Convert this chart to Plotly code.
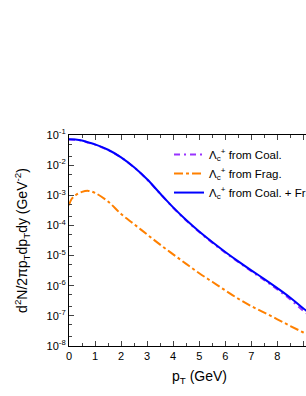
import plotly.graph_objects as go

# transverse momentum grid (GeV)
pt_tot = [0, 0.25, 0.5, 0.75, 1.0, 1.5, 2.0, 2.5, 3.0, 3.5, 4.0, 4.5, 5.0, 5.5,
          6.0, 6.5, 7.0, 7.5, 8.0, 8.5, 9.0, 9.5, 10.0]
coal = [0.0715, 0.0699, 0.0648, 0.0555, 0.0478, 0.0317, 0.0180, 8.4e-3, 3.34e-3,
        1.13e-3, 3.87e-4, 1.46e-4, 6.05e-5, 2.69e-5, 1.25e-5, 6.1e-6, 3.03e-6,
        1.53e-6, 7.5e-7, 3.5e-7, 1.47e-7, 6.8e-8, 3.1e-8]
total = [0.072, 0.071, 0.066, 0.0568, 0.049, 0.0324, 0.0182, 8.5e-3, 3.39e-3,
         1.15e-3, 3.98e-4, 1.51e-4, 6.3e-5, 2.82e-5, 1.32e-5, 6.45e-6, 3.24e-6,
         1.66e-6, 8.3e-7, 4.0e-7, 1.75e-7, 8.5e-8, 4.2e-8]
pt_frag = [0, 0.1, 0.25, 0.5, 0.75, 1.0, 1.5, 2.0, 2.5, 3.0, 3.5, 4.0, 4.5, 5.0,
           5.5, 6.0, 6.5, 7.0, 7.5, 8.0, 8.5, 9.0, 9.5, 10.0]
frag = [4.7e-4, 7.5e-4, 1.0e-3, 1.3e-3, 1.4e-3, 1.2e-3, 6.2e-4, 2.4e-4, 1.1e-4,
        5.0e-5, 2.3e-5, 1.1e-5, 5.3e-6, 2.6e-6, 1.35e-6, 7.0e-7, 3.7e-7, 2.1e-7,
        1.28e-7, 7.7e-8, 4.6e-8, 2.8e-8, 1.7e-8, 1.05e-8]

ytick_vals = [1e-8, 1e-7, 1e-6, 1e-5, 1e-4, 1e-3, 1e-2, 1e-1]
ytick_text = ["10<sup>-8</sup>", "10<sup>-7</sup>", "10<sup>-6</sup>", "10<sup>-5</sup>",
              "10<sup>-4</sup>", "10<sup>-3</sup>", "10<sup>-2</sup>", "10<sup>-1</sup>"]
xtick_vals = [0, 1, 2, 3, 4, 5, 6, 7, 8, 9, 10]

FONT = "Liberation Sans, Arial, sans-serif"

fig = go.Figure()
fig.add_trace(go.Scatter(x=pt_tot, y=coal, mode="lines", line_shape="spline",
                         name="Λ<sub>c</sub><sup>+</sup> from Coal.",
                         line=dict(color="#9933FF", width=2, dash="6px,4px,2px,4px")))
fig.add_trace(go.Scatter(x=pt_frag, y=frag, mode="lines", line_shape="spline",
                         name="Λ<sub>c</sub><sup>+</sup> from Frag.",
                         line=dict(color="#FF8000", width=2, dash="dashdot")))
fig.add_trace(go.Scatter(x=pt_tot, y=total, mode="lines", line_shape="spline",
                         name="Λ<sub>c</sub><sup>+</sup> from Coal. + Frag.",
                         line=dict(color="#0000FF", width=2)))

fig.update_layout(
    width=306, height=396,
    margin=dict(l=69, t=135, r=0, b=50, pad=0, autoexpand=False),
    paper_bgcolor="white", plot_bgcolor="white",
    font=dict(family=FONT, size=11, color="black"),
    showlegend=True,
    legend=dict(x=0.422, y=0.976, xanchor="left", yanchor="top",
                bgcolor="rgba(0,0,0,0)", font=dict(size=11.5, family=FONT),
                tracegroupgap=0, itemwidth=30),
    xaxis=dict(range=[0, 9.1], tickvals=xtick_vals, ticks="inside", ticklen=5,
               tickwidth=1, showline=True, linecolor="black", linewidth=1.2,
               mirror="ticks", showgrid=False, zeroline=False,
               minor=dict(ticks="inside", ticklen=3, dtick=0.5, showgrid=False),
               tickfont=dict(size=11)),
    yaxis=dict(type="log", range=[-8, -1], tickvals=ytick_vals, ticktext=ytick_text,
               ticks="inside", ticklen=5, tickwidth=1, showline=True,
               linecolor="black", linewidth=1.2, mirror=False, showgrid=False,
               zeroline=False,
               minor=dict(ticks="inside", ticklen=3, showgrid=False),
               tickfont=dict(size=11),
               title=dict(text="d<sup>2</sup>N/2πp<sub>T</sub>dp<sub>T</sub>dy (GeV<sup>-2</sup>)",
                          font=dict(size=14), standoff=15)),
)
fig.add_annotation(text="p<sub>T</sub> (GeV)", xref="x", x=5, yref="paper", y=-0.147,
                   yanchor="middle", showarrow=False, font=dict(size=14, family=FONT))

fig.write_html("out.html", config={"displayModeBar": False},
               post_script="document.body.style.margin='0';document.body.style.overflow='hidden';")
